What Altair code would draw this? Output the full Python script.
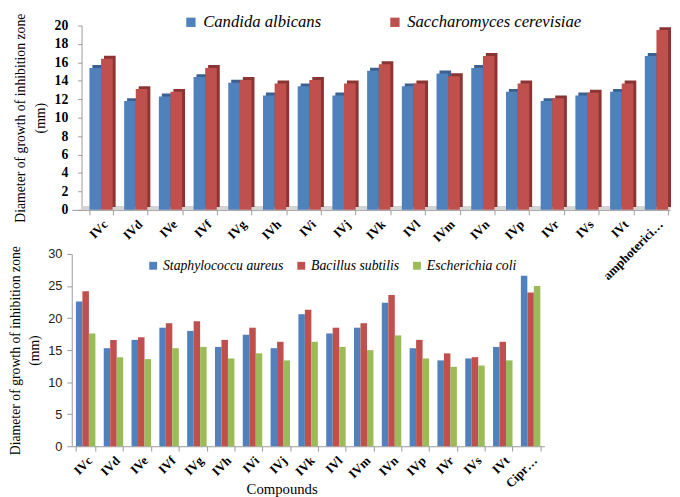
import altair as alt
import pandas as pd

# ---------------- data ----------------
compounds_top = ["IVc", "IVd", "IVe", "IVf", "IVg", "IVh", "IVi", "IVj", "IVk",
                 "IVl", "IVm", "IVn", "IVp", "IVr", "IVs", "IVt", "amphoterici…"]
fungi = ["Candida albicans", "Saccharomyces cerevisiae"]
candida = [15.4, 11.8, 12.3, 14.4, 13.8, 12.4, 13.4, 12.4, 15.1, 13.4, 14.8, 15.4, 12.8, 11.8, 12.4, 12.8, 16.7]
saccharo = [16.4, 13.1, 12.8, 15.4, 14.1, 13.7, 14.1, 13.7, 15.8, 13.7, 14.5, 16.7, 13.7, 12.1, 12.7, 13.7, 19.5]

compounds_bottom = ["IVc", "IVd", "IVe", "IVf", "IVg", "IVh", "IVi", "IVj", "IVk",
                    "IVl", "IVm", "IVn", "IVp", "IVr", "IVs", "IVt", "Cipr…"]
bacteria = ["Staphylococcu aureus", "Bacillus subtilis", "Escherichia coli"]
staph = [22.6, 15.3, 16.6, 18.5, 18.0, 15.5, 17.4, 15.3, 20.6, 17.6, 18.5, 22.4, 15.3, 13.4, 13.7, 15.5, 26.6]
bacillus = [24.2, 16.6, 17.0, 19.2, 19.5, 16.6, 18.5, 16.3, 21.3, 18.5, 19.2, 23.6, 16.6, 14.5, 13.9, 16.3, 24.0]
ecoli = [17.6, 13.9, 13.6, 15.3, 15.5, 13.7, 14.5, 13.4, 16.3, 15.5, 15.0, 17.3, 13.7, 12.4, 12.6, 13.4, 25.0]

top_ticks = list(range(0, 21, 2))
bottom_ticks = list(range(0, 31, 5))

top_colors = ["#4F81BD", "#C0504D"]
top_dark = ["#3A6192", "#8B3533"]
bottom_colors = ["#4F81BD", "#C0504D", "#9BBB59"]

SERIF = "Liberation Serif"
SANS = "Liberation Sans"

df_top = pd.DataFrame({
    "compound": compounds_top * 2,
    "organism": [fungi[0]] * len(compounds_top) + [fungi[1]] * len(compounds_top),
    "value": candida + saccharo,
})

df_bot = pd.DataFrame({
    "compound": compounds_bottom * 3,
    "organism": sum([[b] * len(compounds_bottom) for b in bacteria], []),
    "value": staph + bacillus + ecoli,
})

# ---------------- top chart ----------------
TOP_W = 610
PI, PO = 0.33, 0.283
step = TOP_W / (len(compounds_top) - PI + 2 * PO)
bw = step * (1 - PI)
DEPTH = 3

x_top = alt.X(
    "compound:N", sort=compounds_top,
    scale=alt.Scale(paddingInner=PI, paddingOuter=PO, align=0.9),
    axis=alt.Axis(title=None, labelAngle=-45, labelFont=SERIF, labelFontWeight="bold",
                  labelFontSize=13, labelColor="black", tickBand="extent",
                  domainColor="#9A9A9A", tickColor="#9A9A9A", tickSize=5, labelPadding=3),
)
y_top_scale = alt.Scale(domain=[0, 20])
y_top_axis = alt.Axis(values=top_ticks, grid=False, offset=-10,
                      title=["Diameter of growth of inhibition zone", "(mm)"],
                      titleFont=SERIF, titleFontWeight="normal", titleFontSize=14,
                      titleColor="black", titlePadding=7, titleLineHeight=20,
                      labelFont=SERIF, labelFontWeight="bold", labelFontSize=14,
                      labelColor="black", domainColor="#9A9A9A", tickColor="#9A9A9A",
                      tickSize=4, labelPadding=10)
y_top = alt.Y("value:Q", scale=y_top_scale, axis=y_top_axis)

floor = alt.Chart(df_top).mark_rule(color="#D4D4D4", strokeWidth=4, yOffset=-2).encode(
    x=alt.value(10), x2=alt.value(TOP_W),
    y=alt.Y(datum=0, type="quantitative", scale=y_top_scale, axis=y_top_axis),
)
side = alt.Chart(df_top).mark_bar(yOffset=-DEPTH).encode(
    x=x_top,
    xOffset=alt.XOffset("organism:N", sort=fungi,
                        scale=alt.Scale(domain=fungi, range=[DEPTH, DEPTH + bw], paddingInner=0)),
    y=y_top,
    color=alt.Color("organism:N", sort=fungi,
                    scale=alt.Scale(domain=fungi, range=top_dark), legend=None),
)
front = alt.Chart(df_top).mark_bar().encode(
    x=x_top,
    xOffset=alt.XOffset("organism:N", sort=fungi,
                        scale=alt.Scale(domain=fungi, range=[0, bw], paddingInner=0)),
    y=y_top,
    color=alt.Color("organism:N", sort=fungi,
                    scale=alt.Scale(domain=fungi, range=top_colors),
                    legend=alt.Legend(orient="none", legendX=113, legendY=-12,
                                      direction="horizontal", title=None,
                                      symbolType="square", symbolSize=90,
                                      symbolStrokeWidth=0, labelLimit=400,
                                      labelFont=SERIF, labelFontStyle="italic",
                                      labelFontSize=17, labelColor="black",
                                      columnPadding=66, labelOffset=4)),
)
top = alt.layer(floor, side, front).resolve_scale(
    color="independent", xOffset="independent"
).properties(width=TOP_W, height=188)

# ---------------- bottom chart ----------------
bottom = alt.Chart(df_bot).mark_bar().encode(
    x=alt.X("compound:N", sort=compounds_bottom,
            scale=alt.Scale(paddingInner=0.3, paddingOuter=0.15),
            axis=alt.Axis(title="Compounds", labelAngle=-45, labelFont=SERIF,
                          labelFontWeight="bold", labelFontSize=13, labelColor="black",
                          tickBand="extent", domainColor="#9A9A9A", tickColor="#9A9A9A",
                          tickSize=5, labelPadding=3,
                          titleFont=SERIF, titleFontWeight="normal", titleFontSize=15,
                          titleColor="black", titleX=214, titleY=43,
                          titleBaseline="middle", titleAlign="center")),
    xOffset=alt.XOffset("organism:N", sort=bacteria,
                        scale=alt.Scale(domain=bacteria, paddingInner=0)),
    y=alt.Y("value:Q", scale=alt.Scale(domain=[0, 30]),
            axis=alt.Axis(values=bottom_ticks, grid=False,
                          title=["Diameter of growth of inhibition zone", "(mm)"],
                          titleFont=SERIF, titleFontWeight="normal", titleFontSize=14,
                          titleColor="black", titlePadding=6, titleLineHeight=20,
                          labelFont=SANS, labelFontSize=13, labelColor="#222222",
                          domainColor="#9A9A9A", tickColor="#9A9A9A",
                          tickSize=5, labelPadding=5)),
    color=alt.Color("organism:N", sort=bacteria,
                    scale=alt.Scale(domain=bacteria, range=bottom_colors),
                    legend=alt.Legend(orient="none", legendX=76, legendY=5,
                                      direction="horizontal", title=None,
                                      symbolType="square", symbolSize=64,
                                      symbolStrokeWidth=0, labelLimit=400,
                                      labelFont=SERIF, labelFontStyle="italic",
                                      labelFontSize=14, labelColor="black",
                                      columnPadding=11, labelOffset=3)),
).properties(width=482, height=196)

chart = alt.vconcat(top, bottom, spacing=45, bounds="flush").resolve_scale(
    color="independent", x="independent", y="independent"
).properties(
    padding={"left": 0, "top": 0, "right": 0, "bottom": 0}
).configure_view(strokeWidth=0)

chart.save("out.html", embed_options={"renderer": "svg", "actions": False})
